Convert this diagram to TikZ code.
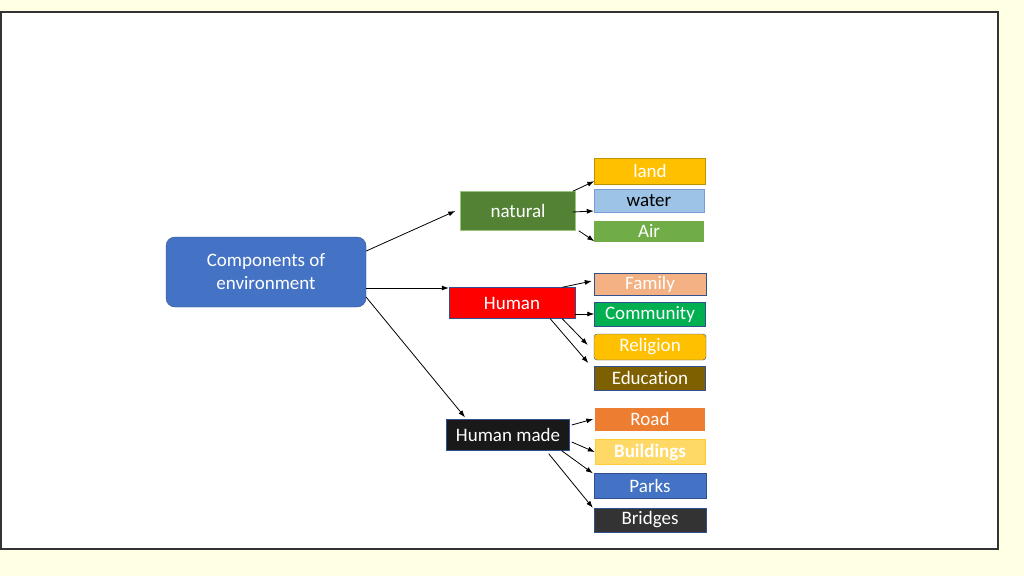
\documentclass[tikz,border=0pt]{standalone}
\usepackage{fontspec}
\setmainfont{Carlito}[Ligatures=NoCommon]
\usetikzlibrary{arrows.meta}
\definecolor{pagebg}{RGB}{255,255,228}
\definecolor{cblue}{RGB}{68,114,196}
\definecolor{cbluedark}{RGB}{47,82,143}
\definecolor{cgreen}{RGB}{84,130,53}
\definecolor{cgold}{RGB}{255,192,0}
\definecolor{clightblue}{RGB}{157,195,230}
\definecolor{cleaf}{RGB}{112,173,71}
\definecolor{cpeach}{RGB}{244,177,131}
\definecolor{cemerald}{RGB}{0,176,80}
\definecolor{cbrown}{RGB}{127,96,0}
\definecolor{corange}{RGB}{237,125,49}
\definecolor{csand}{RGB}{255,217,102}
\definecolor{cgrey}{RGB}{51,51,51}
\tikzset{root/.style={draw=cbluedark,fill=cblue,rounded corners=9pt,text=white,
           minimum width=200pt,minimum height=70pt,align=center,font=\fontsize{19}{23}\selectfont},
         branch/.style={draw=cbluedark,text=white,minimum height=31pt,font=\fontsize{19}{22}\selectfont},
         leaf/.style={draw=cbluedark,text=white,minimum width=111pt,minimum height=24pt,
           inner sep=0pt,font=\fontsize{19}{22}\selectfont},
         link/.style={-{Latex[length=7pt,width=5pt]},line width=0.8pt}}

\begin{document}
\begin{tikzpicture}[x=1pt,y=-1pt]
    \fill[pagebg] (0,0) rectangle (1024,576);
    \draw[fill=white,draw=black!80,line width=1.2pt] (1,12) rectangle (998,549);
    \useasboundingbox (0,0) rectangle (1024,576);
    % main node
    \node[root] (comp) at (266,272) {Components of\\environment};
    % second level
    \node[branch,fill=cgreen,draw=cleaf!70,minimum width=115pt,minimum height=39pt] (nat) at (518,211) {natural};
    \node[branch,fill=red,minimum width=126pt] (hum) at (512,303) {Human};
    \node[branch,fill=black!90,minimum width=123pt] (made) at (508,435) {Human made};
    % natural
    \node[leaf,fill=cgold,draw=cgold!75!black,minimum height=26pt] (land) at (650,171) {land};
    \node[leaf,fill=clightblue,draw=cblue!70,text=black,minimum width=110pt,minimum height=23pt] (water) at (649,201) {water};
    \node[leaf,fill=cleaf,draw=cleaf,minimum width=109pt,minimum height=20pt] (air) at (649,231) {Air};
    % human
    \node[leaf,fill=cpeach,minimum width=112pt,minimum height=22pt] (fam) at (650,284) {Family};
    \node[leaf,fill=cemerald] (comm) at (650,314) {Community};
    \node[leaf,fill=cgold,rounded corners=3pt,minimum width=112pt,minimum height=26pt] (rel) at (650,347) {Religion};
    \node[leaf,fill=cbrown] (edu) at (650,378) {Education};
    % human made
    \node[leaf,fill=corange,draw=corange,minimum width=109pt,minimum height=22pt] (road) at (650,419) {Road};
    \node[leaf,fill=csand,draw=cgold!80,minimum width=110pt,minimum height=25pt,font=\fontsize{19}{22}\selectfont\bfseries] (bld) at (650,452) {Buildings};
    \node[leaf,fill=cblue,minimum width=112pt,minimum height=25pt] (park) at (650,486) {Parks};
    \node[leaf,fill=cgrey,minimum width=112pt] (brg) at (650,520) {Bridges};
    % links from the main node
    \draw[link] ([yshift=21pt]comp.east) -- ([xshift=-5pt]nat.west);
    \draw[link] ([yshift=-16pt]comp.east) -- ([yshift=15pt]hum.west);
    \draw[link] (comp.south east) ++(0,-10) -- ([xshift=-43pt,yshift=2pt]made.north);
    % links from natural
    \draw[link] ([xshift=-3pt]nat.north east) -- ([yshift=3pt]land.south west);
    \draw[link] ([xshift=-3pt,yshift=-1pt]nat.east) -- ([yshift=-10pt]water.west);
    \draw[link] ([xshift=3pt]nat.south east) -- (air.south west);
    % links from human
    \draw[link] ([xshift=-13pt]hum.north east) -- ([xshift=-2pt,yshift=3pt]fam.west);
    \draw[link] ([yshift=-11pt]hum.east) -- (comm.west);
    \draw[link] ([xshift=-13pt]hum.south east) -- ([xshift=-6pt,yshift=2pt]rel.west);
    \draw[link] ([xshift=-25pt]hum.south east) -- ([xshift=-6pt,yshift=15pt]edu.west);
    % links from human made
    \draw[link] ([xshift=2pt,yshift=10pt]made.east) -- ([xshift=-2pt]road.west);
    \draw[link] ([xshift=2pt,yshift=-7pt]made.east) -- (bld.west);
    \draw[link] ([xshift=-8pt]made.south east) -- ([xshift=-1pt]park.north west);
    \draw[link] ([xshift=-21pt,yshift=-3pt]made.south east) -- ([xshift=-1pt]brg.north west);
\end{tikzpicture}
\end{document}
